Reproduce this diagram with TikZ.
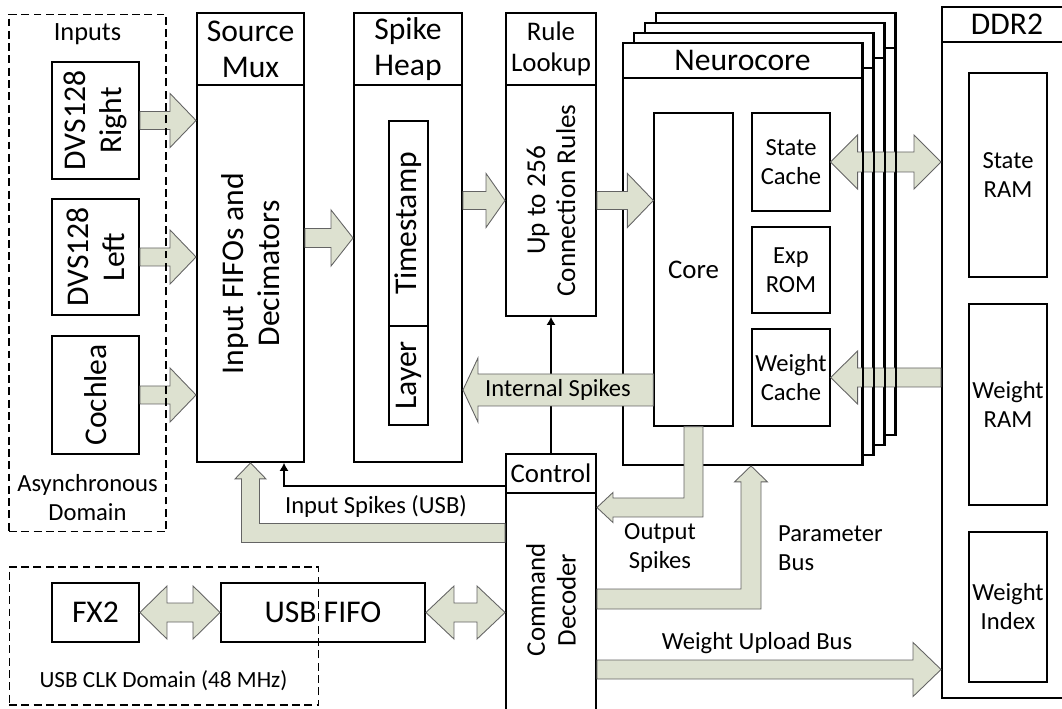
\documentclass[tikz,border=0pt]{standalone}
\usepackage{fontspec}
\setmainfont{Carlito}
\usetikzlibrary{arrows.meta,calc}
\definecolor{busfill}{RGB}{221,225,208}
\definecolor{busline}{RGB}{100,100,100}

% block arrows: #1 start, #2 tip, #3 half shaft, #4 half head, #5 head length
\newcommand{\busr}[5]{\draw[bus] ($(#1)+(0,-#3)$) -- ($(#2)+(-#5,-#3)$) -- ($(#2)+(-#5,-#4)$) -- (#2)
  -- ($(#2)+(-#5,#4)$) -- ($(#2)+(-#5,#3)$) -- ($(#1)+(0,#3)$) -- cycle;}
\newcommand{\busl}[5]{\draw[bus] ($(#1)+(0,-#3)$) -- ($(#2)+(#5,-#3)$) -- ($(#2)+(#5,-#4)$) -- (#2)
  -- ($(#2)+(#5,#4)$) -- ($(#2)+(#5,#3)$) -- ($(#1)+(0,#3)$) -- cycle;}
\newcommand{\busb}[5]{\draw[bus] (#1) -- ($(#1)+(#5,-#4)$) -- ($(#1)+(#5,-#3)$) -- ($(#2)+(-#5,-#3)$)
  -- ($(#2)+(-#5,-#4)$) -- (#2) -- ($(#2)+(-#5,#4)$) -- ($(#2)+(-#5,#3)$) -- ($(#1)+(#5,#3)$)
  -- ($(#1)+(#5,#4)$) -- cycle;}

\begin{document}
\begin{tikzpicture}[x=0.02cm,y=-0.02cm,
  big/.style={font=\fontsize{18}{20.5}\selectfont,align=center},
  mid/.style={font=\fontsize{15.3}{17.5}\selectfont,align=center},
  small/.style={font=\fontsize{14}{16.5}\selectfont,align=center},
  blk/.style={rectangle,draw,line width=1.1pt,fill=white,inner sep=0pt},
  sub/.style={rectangle,draw,line width=0.7pt,fill=white,inner sep=0pt},
  dom/.style={rectangle,draw,line width=0.6pt,dash pattern=on 4.5pt off 2.5pt,inner sep=0pt},
  bus/.style={draw=busline,fill=busfill,line width=0.5pt},
  sig/.style={line width=0.6pt,-{Latex[length=1.6mm,width=1.8mm]}}
]
\useasboundingbox (0,0) rectangle (1062,709);

% neurocore stack
\foreach \k in {3,2,1}{
  \node[blk,minimum width=4.78cm,minimum height=0.7cm] (nch\k) at (742.5+11*\k,60.5-10*\k) {};
  \node[blk,minimum width=4.78cm,minimum height=7.74cm] (nc\k) at (742.5+11*\k,271.5-10*\k) {};
}
\node[blk,big,minimum width=4.78cm,minimum height=0.7cm] (nch) at (742.5,60.5) {Neurocore};
\node[blk,minimum width=4.78cm,minimum height=7.74cm] (nc) at (742.5,271.5) {};
\node[sub,mid,minimum width=1.58cm,minimum height=6.26cm] (core) at (693.5,269.5) {Core};
\node[sub,small,minimum width=1.56cm,minimum height=1.96cm] (scache) at (791,162) {State\\Cache};
\node[sub,small,minimum width=1.56cm,minimum height=1.72cm] (erom) at (791,270) {Exp\\ROM};
\node[sub,small,minimum width=1.56cm,minimum height=1.94cm] (wcache) at (791,377.5) {Weight\\Cache};

% inputs
\node[blk,minimum width=1.74cm,minimum height=2.34cm] (dvsr) at (95.5,120.5) {};
\node[big,rotate=90] (dvsrt) at (dvsr) {DVS128\\Right};
\node[blk,minimum width=1.74cm,minimum height=2.32cm] (dvsl) at (95.5,257) {};
\node[big,rotate=90] (dvslt) at (dvsl) {DVS128\\Left};
\node[blk,minimum width=1.74cm,minimum height=2.36cm] (coch) at (95.5,395) {};
\node[big,rotate=90] (cocht) at (coch) {Cochlea};

% source mux, spike heap, rule lookup
\node[blk,big,minimum width=2.14cm,minimum height=1.44cm] (muxh) at (250.5,49) {Source\\Mux};
\node[blk,minimum width=2.14cm,minimum height=7.54cm] (mux) at (250.5,273.5) {};
\node[big,rotate=90] (muxt) at (mux) {Input FIFOs and\\Decimators};
\node[blk,big,minimum width=2.16cm,minimum height=1.44cm] (heaph) at (408,49) {Spike\\Heap};
\node[blk,minimum width=2.16cm,minimum height=7.54cm] (heap) at (408,273.5) {};
\node[sub,minimum width=0.78cm,minimum height=4.1cm] (ts) at (408.5,223.5) {};
\node[sub,minimum width=0.78cm,minimum height=1.98cm] (lay) at (408.5,375.5) {};
\node[big,rotate=90] (tst) at (ts) {Timestamp};
\node[big,rotate=90] (layt) at (lay) {Layer};
\node[blk,mid,minimum width=1.8cm,minimum height=1.44cm] (ruleh) at (551,49) {Rule\\Lookup};
\node[blk,minimum width=1.8cm,minimum height=4.62cm] (rule) at (551,200.5) {};
\node[rotate=90,align=center,font=\fontsize{15.5}{17}\selectfont] (rulet) at (rule) {Up to 256\\Connection Rules};

% DDR2
\node[blk,big,minimum width=2.6cm,minimum height=0.7cm] (ddrh) at (1007,24.5) {DDR2};
\node[blk,minimum width=2.6cm,minimum height=13.12cm] (ddr) at (1007,370) {};
\node[sub,small,minimum width=1.56cm,minimum height=4.08cm] (sram) at (1008,175) {State\\RAM};
\node[sub,small,minimum width=1.56cm,minimum height=4.02cm] (wram) at (1008,404.5) {Weight\\RAM};
\node[sub,small,minimum width=1.56cm,minimum height=3cm] (widx) at (1008,607) {Weight\\Index};

% control, usb
\node[blk,mid,minimum width=1.8cm,minimum height=0.78cm] (ctlh) at (551,473.5) {Control};
\node[blk,minimum width=1.8cm,minimum height=4.54cm] (ctl) at (551,606.5) {};
\node[mid,rotate=90] (ctlt) at (551,600) {Command\\Decoder};
\node[blk,big,minimum width=1.74cm,minimum height=1.18cm] (fx2) at (95.5,612.5) {FX2};
\node[blk,big,minimum width=4.08cm,minimum height=1.18cm] (ufifo) at (323,612.5) {USB FIFO};

% thin signals
\coordinate (isu) at (284,486);
\draw[sig] (ctlh.north) -- (rule.south);
\draw[sig] (isu -| ctlh.west) -| (mux.south -| isu);

% buses
\busr{dvsr.east}{dvsr.east -| mux.west}{9}{27}{26}
\busr{dvsl.east}{dvsl.east -| mux.west}{9}{27}{26}
\busr{coch.east}{coch.east -| mux.west}{9}{27}{26}
\coordinate (mh) at (mux.east |- 0,238);
\busr{mh}{mh -| heap.west}{9.5}{28}{22}
\busr{heap.east |- rule.east}{rule.west}{9}{27}{19}
\busr{rule.east}{rule.east -| core.west}{9}{27}{26}
\busb{scache.east}{scache.east -| ddr.west}{10}{27}{27}
\busl{wcache.east -| ddr.west}{wcache.east}{9.5}{26.5}{27}
\coordinate (isp) at (core.west |- 0,390);
\busl{isp}{isp -| heap.east}{16}{32}{15}
\busb{fx2.east}{fx2.east -| ufifo.west}{9.5}{26.5}{27}
\busb{ufifo.east}{ufifo.east -| ctl.west}{9.5}{26.5}{28}
\coordinate (wu) at (ctl.east |- 0,669.5);
\busr{wu}{wu -| ddr.west}{9.5}{27}{28}
% output spikes
\coordinate (osc) at (core.south |- 0,507.5);
\draw[bus] ($(core.south)+(-9.5,0)$) -- ($(osc)+(-9.5,-9.5)$) -- ($(osc -| ctl.east)+(16,-9.5)$)
  -- ($(osc -| ctl.east)+(16,-15)$) -- (osc -| ctl.east) -- ($(osc -| ctl.east)+(16,15)$)
  -- ($(osc -| ctl.east)+(16,9.5)$) -- ($(osc)+(9.5,9.5)$) -- ($(core.south)+(9.5,0)$) -- cycle;
% parameter bus
\coordinate (pbc) at (751,599);
\draw[bus] ($(pbc -| ctl.east)+(0,-10)$) -- ($(pbc)+(-10,-10)$) -- ($(pbc |- nc.south)+(-10,16)$)
  -- ($(pbc |- nc.south)+(-16.5,16)$) -- (pbc |- nc.south) -- ($(pbc |- nc.south)+(16.5,16)$)
  -- ($(pbc |- nc.south)+(10,16)$) -- ($(pbc)+(10,10)$) -- ($(pbc -| ctl.east)+(0,10)$) -- cycle;
% input spikes (usb)
\coordinate (iuc) at (mux.south |- 0,533);
\draw[bus] ($(iuc -| ctl.west)+(0,-9.5)$) -- ($(iuc)+(9,-9.5)$) -- ($(mux.south)+(9,16)$)
  -- ($(mux.south)+(15.5,16)$) -- (mux.south) -- ($(mux.south)+(-15.5,16)$)
  -- ($(mux.south)+(-9,16)$) -- ($(iuc)+(-9,9.5)$) -- ($(iuc -| ctl.west)+(0,9.5)$) -- cycle;

% stack edges over the buses
\foreach \k in {1,2,3} \draw[line width=1.1pt] (nch\k.north east) -- (nc\k.south east);
\draw[line width=1.1pt] (nch.north east) -- (nc.south east);

% bus labels
\node[small] (ist) at (558,390) {Internal Spikes};
\node[small] (ost) at (660,548) {Output\\Spikes};
\node[small,align=left,anchor=west] (pbt) at (772,548) {Parameter\\Bus};
\node[small] (wut) at (757,643) {Weight Upload Bus};
\node[small] (iut) at (376,506) {Input Spikes (USB)};

% clock domains
\node[dom,minimum width=3.14cm,minimum height=10.36cm] (async) at (87.5,273) {};
\node[font=\fontsize{15}{17}\selectfont] (inl) at (87.5,34) {Inputs};
\node[small] (asl) at (87.5,498) {Asynchronous\\Domain};
\node[dom,minimum width=6.2cm,minimum height=2.76cm] (usbdom) at (164,636) {};
\node[font=\fontsize{13.2}{15}\selectfont] (usbl) at (163.5,681) {USB CLK Domain (48 MHz)};
\end{tikzpicture}
\end{document}
